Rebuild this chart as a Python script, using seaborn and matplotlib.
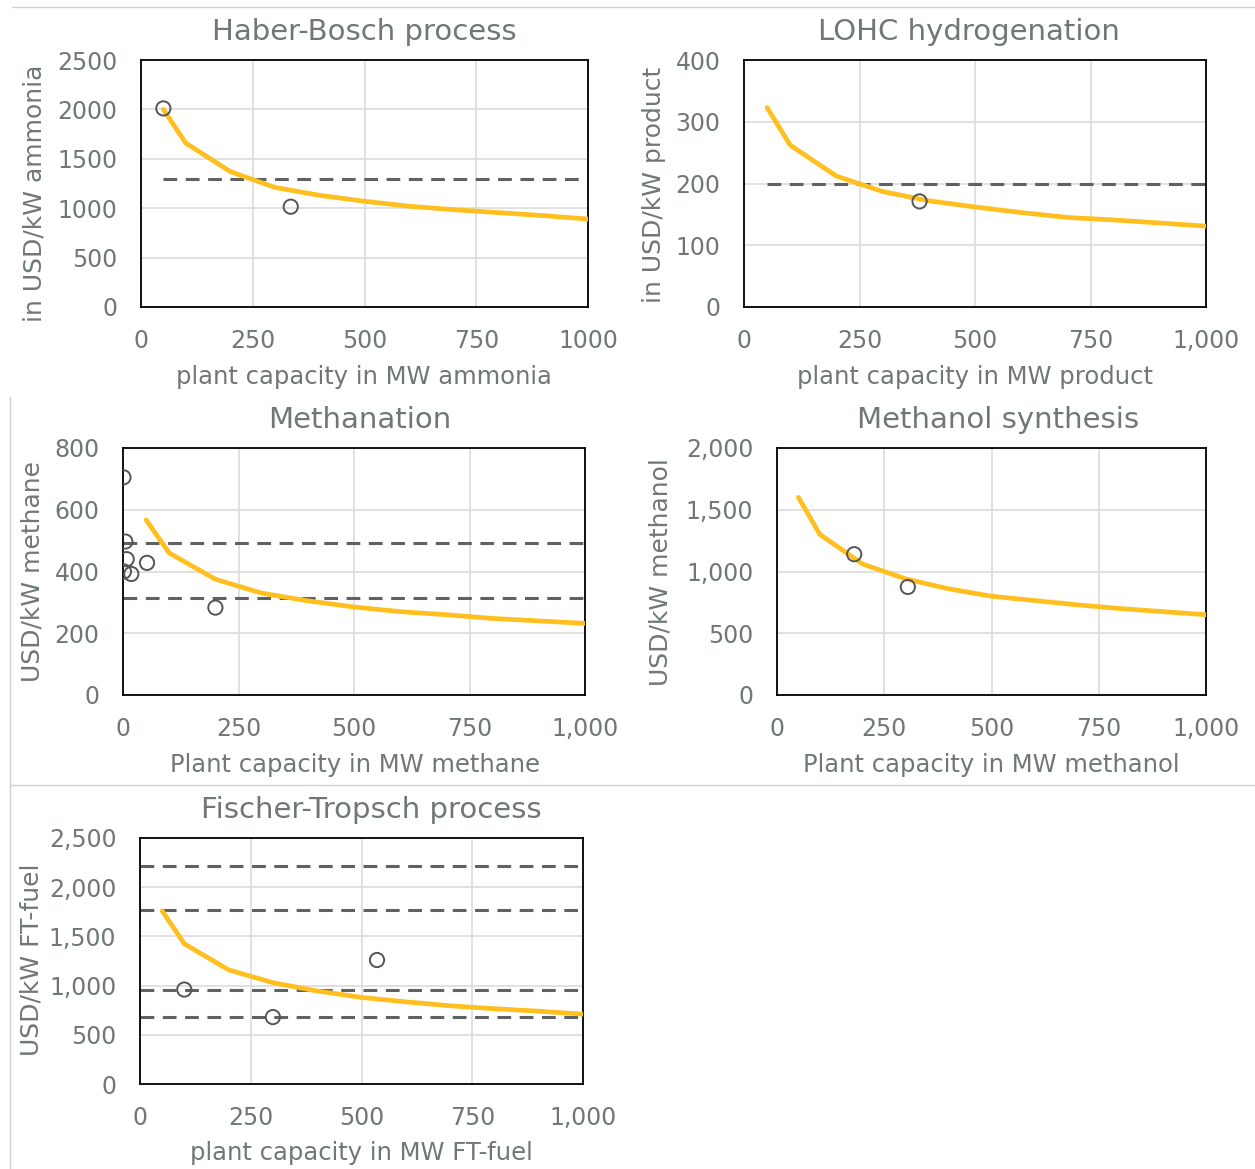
import matplotlib
matplotlib.use("Agg")
import matplotlib.pyplot as plt
from matplotlib.lines import Line2D
from matplotlib.ticker import FuncFormatter
import seaborn as sns

W, H = 1255, 1169

# capacity grid of the scaling curves (MW)
capacity = [50, 100, 200, 300, 400, 500, 600, 700, 800, 900, 1000]

# Haber-Bosch
hb_curve = [2000, 1660, 1370, 1210, 1130, 1070, 1020, 985, 955, 925, 890]
hb_pts_x = [50, 335]
hb_pts_y = [2010, 1015]
hb_dash = [1300]

# LOHC hydrogenation
lohc_curve = [323, 262, 212, 187, 172, 162, 153, 145, 141, 136, 131]
lohc_pts_x = [380]
lohc_pts_y = [171]
lohc_dash = [200]

# Methanation
meth_curve = [567, 460, 375, 330, 305, 285, 270, 260, 248, 240, 232]
meth_pts_x = [1, 5, 8, 2, 18, 52, 200]
meth_pts_y = [705, 497, 440, 400, 392, 428, 283]
meth_dash = [492, 315]

# Methanol synthesis
meoh_curve = [1600, 1300, 1060, 940, 860, 800, 765, 730, 700, 675, 650]
meoh_pts_x = [180, 305]
meoh_pts_y = [1140, 875]
meoh_dash = []

# Fischer-Tropsch
ft_curve = [1760, 1425, 1160, 1030, 945, 880, 835, 795, 765, 740, 710]
ft_pts_x = [100, 300, 535]
ft_pts_y = [960, 680, 1260]
ft_dash = [2220, 1770, 960, 680]

TXT = "#6f7777"
YEL = "#ffbf1f"

sns.set_style("white")
plt.rcParams["font.family"] = ["DejaVu Sans"]

fig = plt.figure(figsize=(W / 100, H / 100), dpi=100)


def box(l, r, t, b):
    return [l / W, 1 - b / H, (r - l) / W, (b - t) / H]


def fx(px):
    return px / W


def fy(py):
    return 1 - py / H


panels = [
    dict(pos=(141, 588, 60, 307), title="Haber-Bosch process", tpos=(364, 32),
         ylab="in USD/kW ammonia", ypos=(35, 193), xlab="plant capacity in MW ammonia", xpos=(364, 377),
         curve=hb_curve, px=hb_pts_x, py=hb_pts_y, dash=hb_dash, dx0=50,
         ymax=2500, ystep=500, comma=False),
    dict(pos=(744, 1206, 60, 307), title="LOHC hydrogenation", tpos=(969, 32),
         ylab="in USD/kW product", ypos=(654, 185), xlab="plant capacity in MW product", xpos=(975, 377),
         curve=lohc_curve, px=lohc_pts_x, py=lohc_pts_y, dash=lohc_dash, dx0=50,
         ymax=400, ystep=100, comma=True),
    dict(pos=(123, 585, 448, 695), title="Methanation", tpos=(360, 420),
         ylab="USD/kW methane", ypos=(33, 572), xlab="Plant capacity in MW methane", xpos=(355, 765),
         curve=meth_curve, px=meth_pts_x, py=meth_pts_y, dash=meth_dash, dx0=0,
         ymax=800, ystep=200, comma=True),
    dict(pos=(777, 1206, 448, 695), title="Methanol synthesis", tpos=(998, 420),
         ylab="USD/kW methanol", ypos=(661, 572), xlab="Plant capacity in MW methanol", xpos=(991, 765),
         curve=meoh_curve, px=meoh_pts_x, py=meoh_pts_y, dash=meoh_dash, dx0=0,
         ymax=2000, ystep=500, comma=True),
    dict(pos=(140, 583, 838, 1084), title="Fischer-Tropsch process", tpos=(371, 810),
         ylab="USD/kW FT-fuel", ypos=(32, 960), xlab="plant capacity in MW FT-fuel", xpos=(361, 1153),
         curve=ft_curve, px=ft_pts_x, py=ft_pts_y, dash=ft_dash, dx0=0,
         ymax=2500, ystep=500, comma=True),
]

for p in panels:
    ax = fig.add_axes(box(*p["pos"]))
    ax.set_xlim(0, 1000)
    ax.set_ylim(0, p["ymax"])
    ax.set_xticks(range(0, 1001, 250))
    ax.set_yticks(range(0, p["ymax"] + 1, p["ystep"]))
    if p["comma"]:
        fmt = FuncFormatter(lambda v, _: f"{int(v):,}")
        ax.xaxis.set_major_formatter(fmt)
        ax.yaxis.set_major_formatter(fmt)
    ax.grid(True, color="#dcdcdc", linewidth=1.2)
    ax.set_axisbelow(True)
    for s in ax.spines.values():
        s.set_color("black")
        s.set_linewidth(1.3)
    ax.tick_params(axis="both", direction="out", length=6, width=1.2, color="black",
                   labelsize=17, labelcolor=TXT)
    ax.tick_params(axis="y", pad=11)
    ax.tick_params(axis="x", pad=10)

    for yv in p["dash"]:
        ax.hlines(yv, p["dx0"], 1000, colors="#5f6262", linestyles=(0, (4.5, 2.8)), linewidth=2.2, zorder=2)
    sns.lineplot(x=capacity, y=p["curve"], ax=ax, color=YEL, linewidth=3.4, zorder=3)
    sns.scatterplot(x=p["px"], y=p["py"], ax=ax, s=105, facecolors="none",
                    edgecolor="#555555", linewidth=1.4, zorder=4)

    fig.text(fx(p["tpos"][0]), fy(p["tpos"][1]), p["title"], ha="center", va="center",
             fontsize=21, color=TXT)
    fig.text(fx(p["ypos"][0]), fy(p["ypos"][1]), p["ylab"], ha="center", va="center",
             rotation=90, fontsize=18, color=TXT)
    fig.text(fx(p["xpos"][0]), fy(p["xpos"][1]), p["xlab"], ha="center", va="center",
             fontsize=17.5, color=TXT)

# light panel frames
frame = "#d0d0d0"
fig.add_artist(Line2D([fx(12), 1], [fy(7), fy(7)], color=frame, linewidth=1))
fig.add_artist(Line2D([fx(10), fx(10)], [fy(397), 0], color=frame, linewidth=1))
fig.add_artist(Line2D([fx(10), 1], [fy(785), fy(785)], color=frame, linewidth=1))

fig.savefig("out.png", dpi=100)
